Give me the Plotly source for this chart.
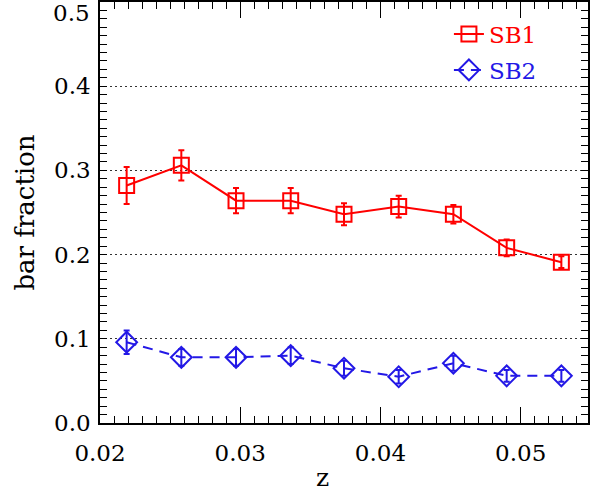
import plotly.graph_objects as go

# ---- data ----
z = [0.0219, 0.0258, 0.0297, 0.0336, 0.0374, 0.0413, 0.0452, 0.0490, 0.0529]
sb1 = [0.282, 0.306, 0.264, 0.264, 0.248, 0.257, 0.248, 0.208, 0.191]
sb1_err = [0.022, 0.018, 0.015, 0.015, 0.013, 0.013, 0.011, 0.010, 0.007]
sb2 = [0.096, 0.078, 0.078, 0.080, 0.065, 0.055, 0.071, 0.056, 0.056]
sb2_err = [0.014, 0.010, 0.010, 0.010, 0.009, 0.008, 0.009, 0.007, 0.007]

x_tickvals = [0.02, 0.03, 0.04, 0.05]
x_ticktext = ["0.02", "0.03", "0.04", "0.05"]
y_tickvals = [0.0, 0.1, 0.2, 0.3, 0.4]
y_ticktext = ["0.0", "0.1", "0.2", "0.3", "0.4"]
y_top_label = "0.5"
series_names = ["SB1", "SB2"]
x_title = "z"
y_title = "bar fraction"

RED = "#ff0000"
BLUE = "#2318e6"
FONT = "DejaVu Serif"

fig = go.Figure()
fig.add_trace(go.Scatter(
    x=z, y=sb1, mode="lines+markers",
    name=f"<span style='color:{RED}'>{series_names[0]}</span>",
    legendgroup="a",
    line=dict(color=RED, width=2),
    marker=dict(symbol="square-open", size=15, color=RED, line=dict(width=2, color=RED)),
    error_y=dict(type="data", array=sb1_err, visible=True, color=RED, thickness=2, width=3),
))
fig.add_trace(go.Scatter(
    x=z, y=sb2, mode="lines+markers",
    name=f"<span style='color:{BLUE}'>{series_names[1]}</span>",
    legendgroup="b",
    line=dict(color=BLUE, width=2, dash="10px,7px"),
    marker=dict(symbol="diamond-open", size=16, color=BLUE, line=dict(width=2, color=BLUE)),
    error_y=dict(type="data", array=sb2_err, visible=True, color=BLUE, thickness=2, width=3),
))

fig.update_layout(
    width=605, height=495,
    margin=dict(l=100, r=17, t=0, b=72),
    paper_bgcolor="white", plot_bgcolor="white",
    font=dict(family=FONT, size=23, color="black"),
    showlegend=True,
    legend=dict(
        x=0.715, y=0.975, xanchor="left", yanchor="top",
        bgcolor="rgba(0,0,0,0)", borderwidth=0,
        traceorder="grouped", tracegroupgap=3,
        font=dict(family=FONT, size=23),
        itemwidth=30,
    ),
    xaxis=dict(
        range=[0.02, 0.0548],
        tickvals=x_tickvals, ticktext=x_ticktext,
        ticks="inside", ticklen=16, tickwidth=1, tickcolor="black",
        minor=dict(dtick=0.001, tick0=0.02, ticks="inside", ticklen=7, tickwidth=1, tickcolor="black"),
        showline=True, linecolor="black", linewidth=1.5, mirror="ticks",
        showgrid=False, zeroline=False,
        ticklabelstandoff=9,
        tickfont=dict(family=FONT, size=23),
    ),
    yaxis=dict(
        range=[0, 0.5],
        tickvals=y_tickvals, ticktext=y_ticktext,
        ticks="inside", ticklen=0, tickcolor="black",
        minor=dict(dtick=0.01, tick0=0, ticks="inside", ticklen=7, tickwidth=1, tickcolor="black"),
        showline=True, linecolor="black", linewidth=1.5, mirror="ticks",
        showgrid=True, gridcolor="#333333", gridwidth=1, griddash="2px,3px",
        zeroline=False,
        ticklabelstandoff=3,
        tickfont=dict(family=FONT, size=23),
        title=dict(text=y_title, font=dict(family=FONT, size=26), standoff=12),
    ),
    annotations=[
        dict(text=x_title, xref="paper", yref="paper", x=(322 - 100) / 488, y=-55 / 423,
             xanchor="center", yanchor="middle", showarrow=False,
             font=dict(family=FONT, size=25, color="black")),
        dict(text=y_top_label, xref="paper", yref="y", x=0, y=0.5, xshift=-8, yshift=4,
             xanchor="right", yanchor="top", showarrow=False,
             font=dict(family=FONT, size=23, color="black")),
    ],
)

fig.write_html("out.html")
